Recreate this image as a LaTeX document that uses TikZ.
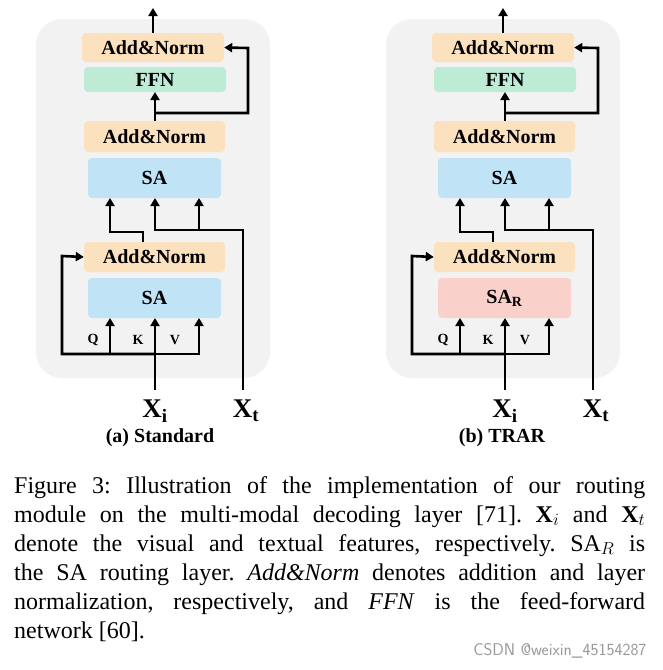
\documentclass[tikz,border=0pt]{standalone}
\usepackage{fontspec}
\setmainfont{Liberation Serif}
\usetikzlibrary{arrows.meta}
\definecolor{bgg}{HTML}{F2F2F2}
\definecolor{orn}{HTML}{FCE1BE}
\definecolor{grn}{HTML}{BDEBD6}
\definecolor{blu}{HTML}{C0E3F5}
\definecolor{pnk}{HTML}{FAD1CA}
\tikzset{
 box/.style={rectangle,rounded corners=4pt,inner sep=0pt,font=\fontsize{20}{22}\selectfont\bfseries},
 arr/.style={line width=2.6pt,-{Triangle[length=8pt,width=9pt]}},
 ln/.style={line width=2.6pt},
 qkv/.style={font=\fontsize{14}{15}\selectfont\bfseries},
 xl/.style={font=\fontsize{27}{28}\selectfont\bfseries},
}
\newcommand\panel[4]{%
\begin{scope}[xshift=#4]
\fill[bgg,rounded corners=26pt] (36,19) rectangle (270,378);
\node[box,fill=orn,minimum width=142pt,minimum height=29pt] (#1top) at (153,47.5) {Add\&Norm};
\node[box,fill=grn,minimum width=142pt,minimum height=25pt] (#1ffn) at (155,79.5) {FFN};
\node[box,fill=orn,minimum width=141pt,minimum height=31pt] (#1mid) at (154.5,136.5) {Add\&Norm};
\node[box,fill=blu,minimum width=133pt,minimum height=40pt] (#1sa) at (154.5,178) {SA};
\node[box,fill=orn,minimum width=141pt,minimum height=30pt] (#1low) at (154.5,257) {Add\&Norm};
\node[box,fill=#3,minimum width=133pt,minimum height=40pt] (#1sab) at (154.5,298) {#2};
\coordinate (#1out) at (153,8);
\coordinate (#1xi) at (155,390);
\coordinate (#1xt) at (243,390);
\draw[arr] (#1top.north) -- (#1out);
\draw[arr] (155,121) -- (155,92);
\draw[arr] (155,113) -- (248,113) -- (248,48) -- (#1top.east);
\draw[arr] (#1low.north -| 143,0) -- (143,232) -- (110,232) -- (110,198);
\draw[arr] (#1xt) -- (243,230) -- (155,230) -- (155,198);
\draw[arr] (199,230) -- (199,198);
\draw[arr] (#1xi) -- (155,318);
\draw[ln] (110,354) -- (199,354);
\draw[arr] (110,355) -- (110,318);
\draw[arr] (199,355.3) -- (199,318);
\draw[arr] (155,354) -- (62,354) -- (62,256) -- (#1low.west);
\node[qkv] (#1q) at (93,340) {Q};
\node[qkv] (#1k) at (138,340) {K};
\node[qkv] (#1v) at (175,340) {V};
\node[xl] (#1xil) at (155,411) {X\textsubscript{i}};
\node[xl] (#1xtl) at (246,411) {X\textsubscript{t}};
\end{scope}}
\begin{document}
\begin{tikzpicture}[x=1pt,y=-1pt]
\useasboundingbox[fill=white] (0,0) rectangle (662,670);
\panel{a}{SA}{blu}{0}
\panel{b}{SA\textsubscript{R}}{pnk}{350}
\node[font=\fontsize{20}{22}\selectfont\bfseries] (capa) at (160,438) {(a) Standard};
\node[font=\fontsize{20}{22}\selectfont\bfseries] (capb) at (502,438) {(b) TRAR};
\node[anchor=north west,inner sep=0pt,text width=631pt,align=justify,font=\fontsize{24}{29}\selectfont\frenchspacing] (cap) at (14,476)
{Figure 3: Illustration of the implementation of our routing\linebreak
module on the multi-modal decoding layer [71]. \textbf{X}$_i$ and \textbf{X}$_t$\linebreak
denote the visual and textual features, respectively. SA$_R$ is\linebreak
the SA routing layer. \textit{Add\&Norm} denotes addition and layer\linebreak
normalization, respectively, and \textit{FFN} is the feed-forward\linebreak
network [60].};
\node[anchor=east,font=\fontsize{17}{18}\selectfont\sffamily,text=gray!80] (wm) at (650,651) {CSDN @weixin\_45154287};
\end{tikzpicture}
\end{document}
